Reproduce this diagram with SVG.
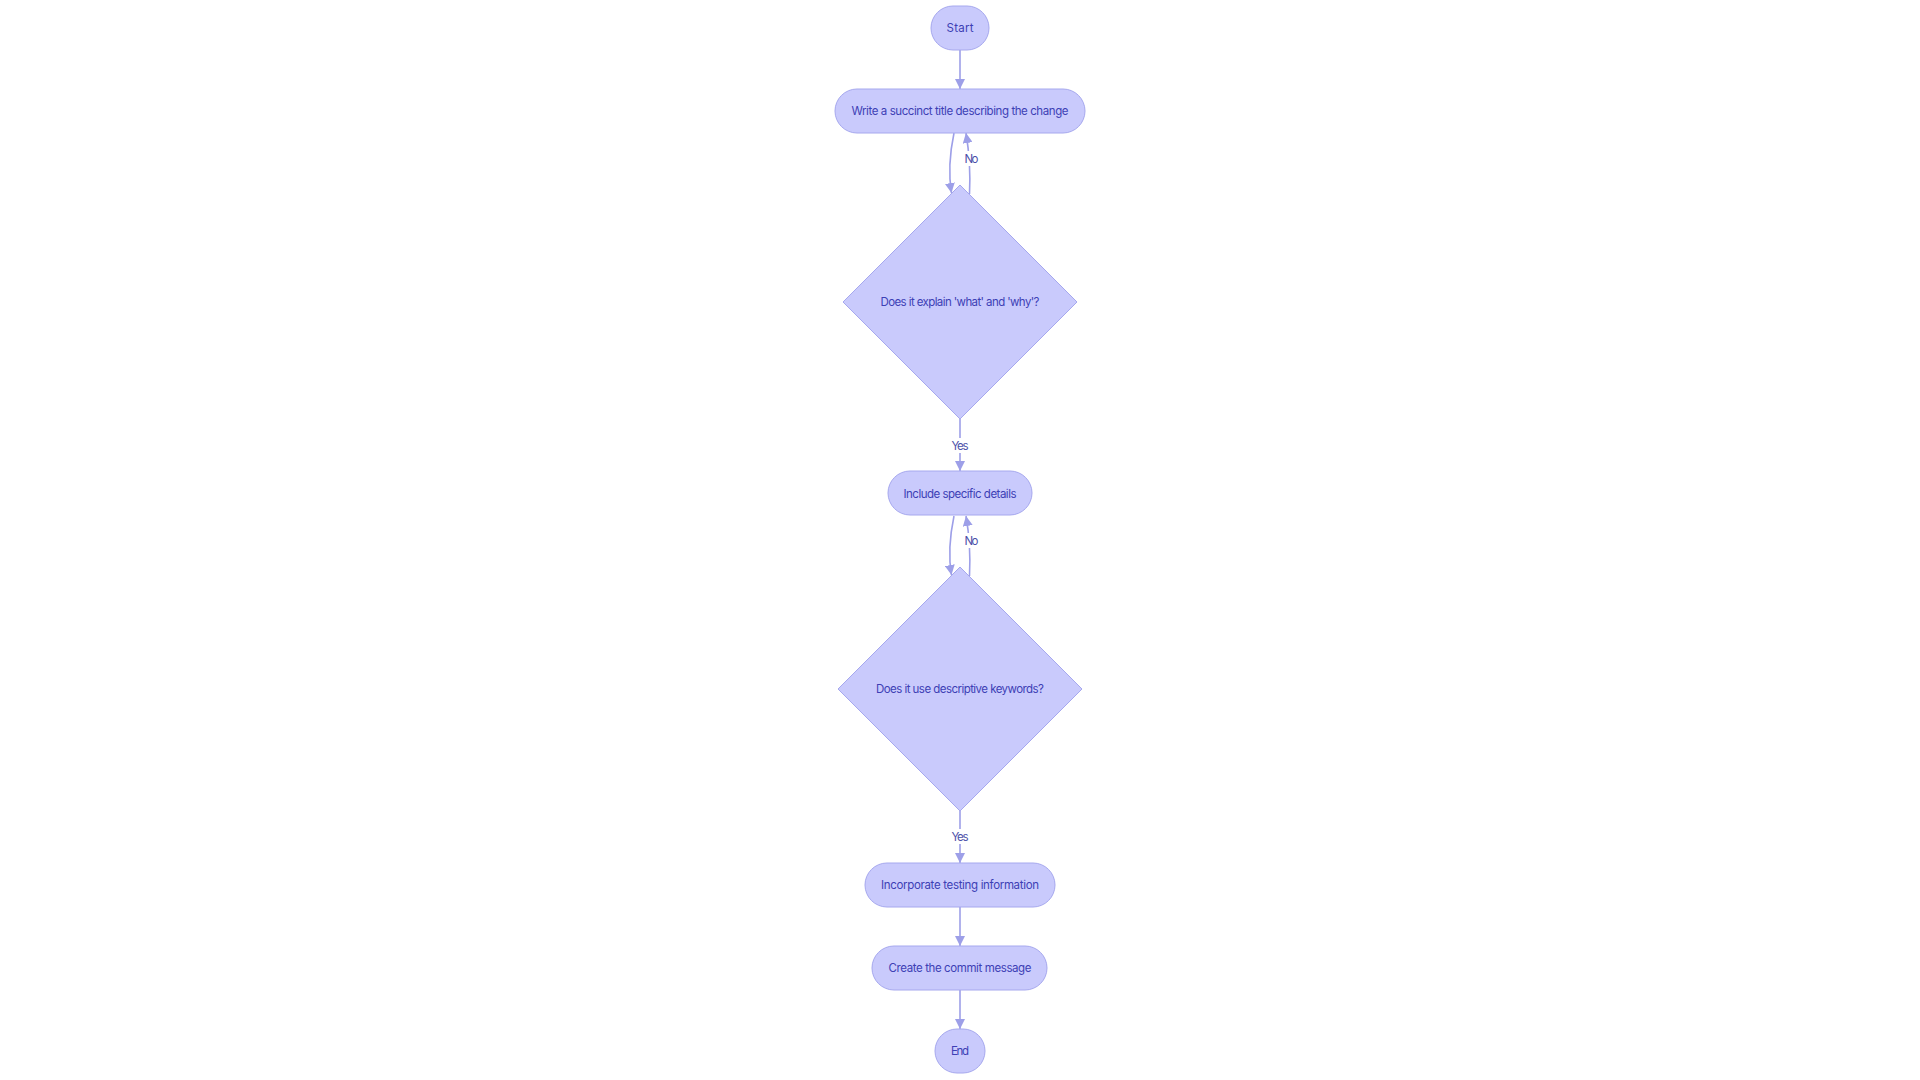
<svg xmlns="http://www.w3.org/2000/svg" width="1920" height="1080" viewBox="0 0 1920 1080">
<defs>
<style>
.node{fill:#c9cafc;stroke:#a6a8ee;stroke-width:1}
.nt{font-family:"Inter","Liberation Sans",sans-serif;font-size:11.5px;fill:#3d40b5;text-anchor:middle;dominant-baseline:central}
.edge{fill:none;stroke:#9d9fe8;stroke-width:1.6}
.el{font-family:"Inter","Liberation Sans",sans-serif;font-size:11.5px;fill:#4b4fa8;text-anchor:middle;dominant-baseline:central}
.lb{fill:#ffffff}
</style>
<marker id="arr" viewBox="0 0 10 10" refX="10" refY="5" markerWidth="10" markerHeight="10" markerUnits="userSpaceOnUse" orient="auto">
<path d="M0,0 L10,5 L0,10 z" fill="#9d9fe8"/>
</marker>
</defs>
<rect width="1920" height="1080" fill="#ffffff"/>
<g id="connectors">
<path class="edge" d="M960,50 L960,89" marker-end="url(#arr)"/>
<path class="edge" d="M954,133 C950,152 948,172 951.5,193" marker-end="url(#arr)"/>
<path class="edge" d="M969.5,194 C970.5,174 969.5,154 966,133" marker-end="url(#arr)"/>
<path class="edge" d="M960,419 L960,471" marker-end="url(#arr)"/>
<path class="edge" d="M954,516 C950,535 948,555 951.5,575" marker-end="url(#arr)"/>
<path class="edge" d="M969.5,576 C970.5,556 969.5,536 966,516" marker-end="url(#arr)"/>
<path class="edge" d="M960,811 L960,863" marker-end="url(#arr)"/>
<path class="edge" d="M960,907 L960,946" marker-end="url(#arr)"/>
<path class="edge" d="M960,990 L960,1029" marker-end="url(#arr)"/>
<rect class="lb" x="963" y="151" width="18" height="15"/>
<text class="el" x="971.5" y="159" textLength="14">No</text>
<rect class="lb" x="950" y="438" width="20" height="15"/>
<text class="el" x="960" y="446" textLength="17">Yes</text>
<rect class="lb" x="963" y="533" width="18" height="15"/>
<text class="el" x="971.5" y="541" textLength="14">No</text>
<rect class="lb" x="950" y="829" width="20" height="15"/>
<text class="el" x="960" y="837" textLength="17">Yes</text>
</g>
<g id="start">
<rect class="node" x="931" y="6" width="58" height="44" rx="22" ry="22"/>
<text class="nt" x="960" y="28" textLength="27">Start</text>
</g>
<g id="write-title">
<rect class="node" x="835" y="89" width="250" height="44" rx="22" ry="22"/>
<text class="nt" x="960" y="111" textLength="217">Write a succinct title describing the change</text>
</g>
<g id="explain-what-why">
<polygon class="node" points="960,185 1077,302 960,419 843,302"/>
<text class="nt" x="960" y="302" textLength="159">Does it explain 'what' and 'why'?</text>
</g>
<g id="include-details">
<rect class="node" x="888" y="471" width="144" height="44" rx="22" ry="22"/>
<text class="nt" x="960" y="494" textLength="113">Include specific details</text>
</g>
<g id="descriptive-keywords">
<polygon class="node" points="960,567 1082,689 960,811 838,689"/>
<text class="nt" x="960" y="689" textLength="168">Does it use descriptive keywords?</text>
</g>
<g id="testing-info">
<rect class="node" x="865" y="863" width="190" height="44" rx="22" ry="22"/>
<text class="nt" x="960" y="885" textLength="158">Incorporate testing information</text>
</g>
<g id="create-commit">
<rect class="node" x="872" y="946" width="175" height="44" rx="22" ry="22"/>
<text class="nt" x="960" y="968" textLength="143">Create the commit message</text>
</g>
<g id="end">
<rect class="node" x="935" y="1029" width="50" height="44" rx="22" ry="22"/>
<text class="nt" x="960" y="1051" textLength="18">End</text>
</g>
</svg>
